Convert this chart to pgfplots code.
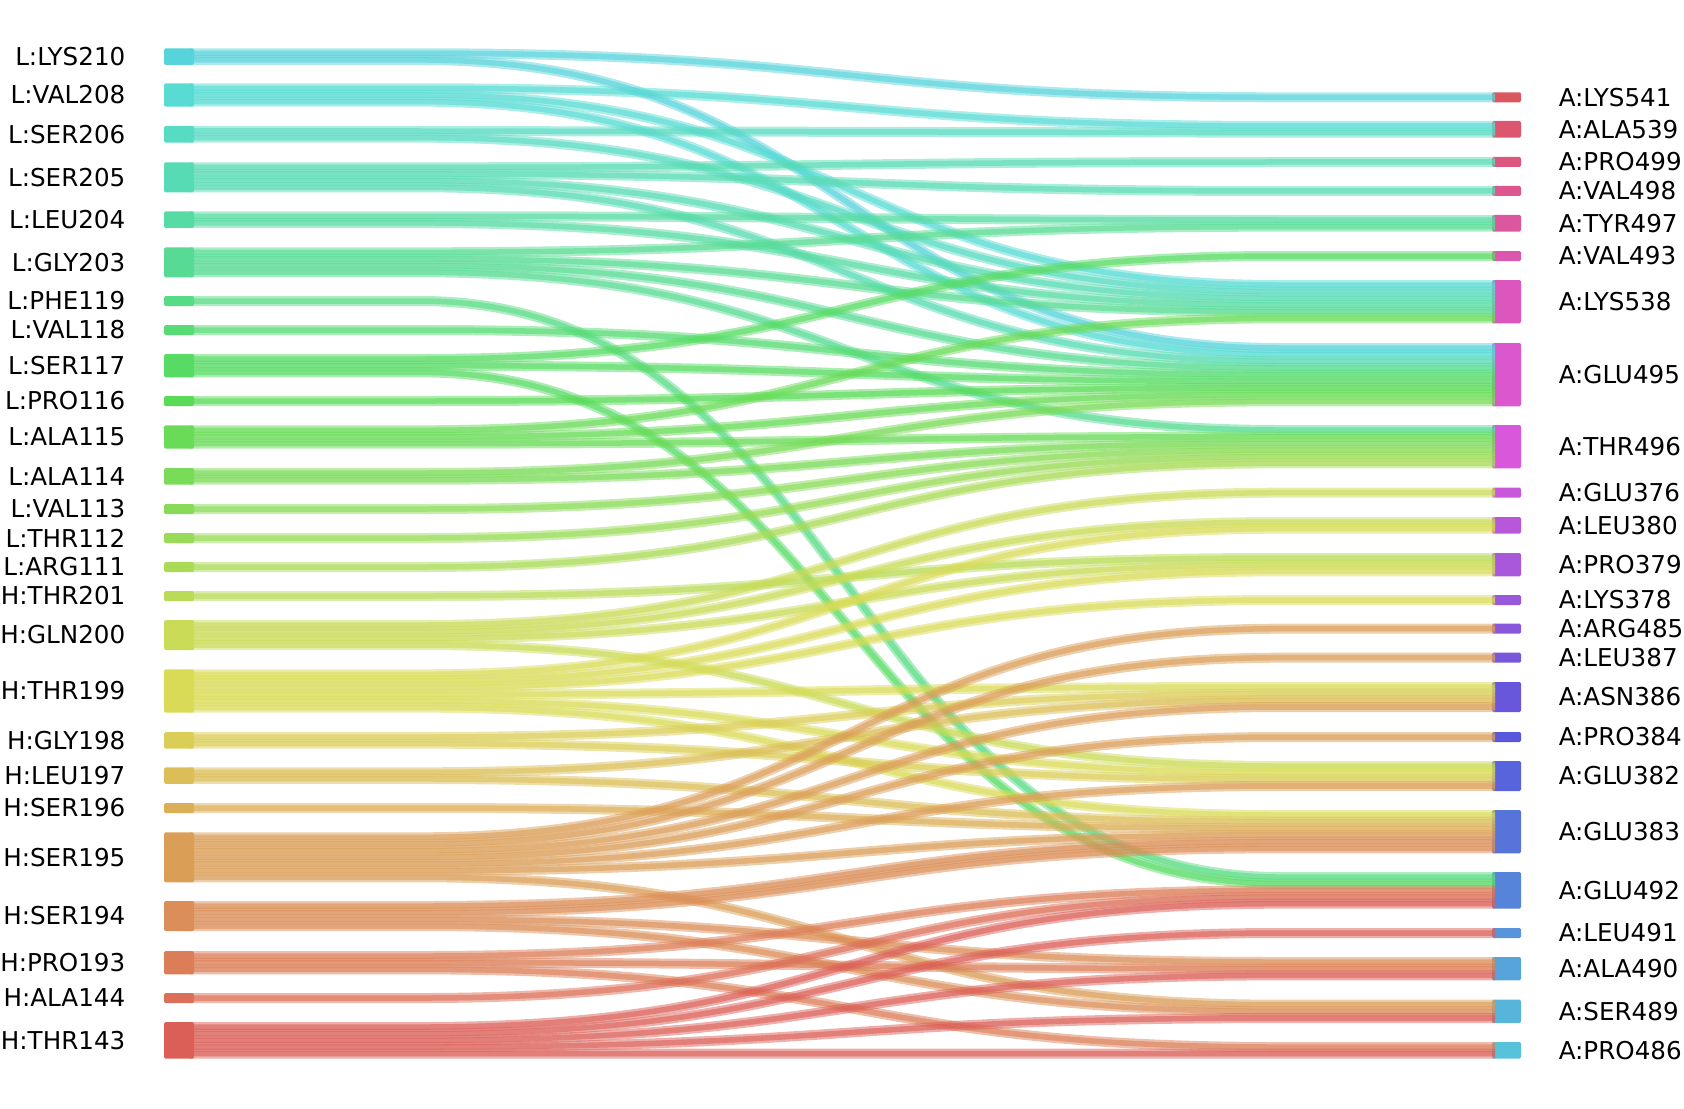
\documentclass[border=0pt]{standalone}
\usepackage{fontspec}
\setmainfont{DejaVu Sans}
\usepackage{pgfplots}
\usepackage{pgfplotstable}
\pgfplotsset{compat=1.18}

% hls palette, 50 hues (l=.6, s=.65) written as hsb, stored as rgb
\foreach \k in {0,...,49}{%
  \pgfmathsetmacro\hh{0.01+\k/50}%
  \definecolor{tmphue}{hsb}{\hh,0.6047,0.86}%
  \xglobal\colorlet{hue\k}[rgb]{tmphue}}

\newcommand\lbl{\fontsize{7}{8}\selectfont}

% left residues: label, top edge (px), contacts
\pgfplotstableread{
name top n
L:LYS210 48.3 2
L:VAL208 83.3 3
L:SER206 126 2
L:SER205 162.3 4
L:LEU204 211.3 2
L:GLY203 247.3 4
L:PHE119 296 1
L:VAL118 325 1
L:SER117 354 3
L:PRO116 396 1
L:ALA115 425.3 3
L:ALA114 468 2
L:VAL113 504 1
L:THR112 533 1
L:ARG111 562 1
H:THR201 591 1
H:GLN200 620 4
H:THR199 669.3 6
H:GLY198 732 2
H:LEU197 767.3 2
H:SER196 803 1
H:SER195 832.3 7
H:SER194 901 4
H:PRO193 951 3
H:ALA144 993 1
H:THR143 1022 5
}\leftnodes

% right residues
\pgfplotstableread{
name top n
A:LYS541 92.3 1
A:ALA539 121 2
A:PRO499 157 1
A:VAL498 186 1
A:TYR497 215 2
A:VAL493 251 1
A:LYS538 280 6
A:GLU495 343 9
A:THR496 425 6
A:GLU376 487.7 1
A:LEU380 517 2
A:PRO379 553 3
A:LYS378 595 1
A:ARG485 623.7 1
A:LEU387 652.7 1
A:ASN386 682 4
A:PRO384 732 1
A:GLU382 761 4
A:GLU383 810 6
A:GLU492 872 5
A:LEU491 928 1
A:ALA490 957 3
A:SER489 999.7 3
A:PRO486 1042 2
}\rightnodes

% one row per contact: source, slot in source, target, slot in target
\pgfplotstableread{
s ks t kt
0 0 0 0
0 1 7 0
1 0 1 0
1 1 6 0
1 2 7 1
2 0 1 1
2 1 6 1
3 0 2 0
3 1 3 0
3 2 6 2
3 3 7 2
4 0 4 0
4 1 6 3
5 0 4 1
5 1 6 4
5 2 7 3
5 3 8 0
6 0 19 0
7 0 7 4
8 0 5 0
8 1 7 5
8 2 19 1
9 0 7 6
10 0 6 5
10 1 7 7
10 2 8 1
11 0 7 8
11 1 8 2
12 0 8 3
13 0 8 4
14 0 8 5
15 0 11 0
16 0 9 0
16 1 10 0
16 2 11 1
16 3 17 0
17 0 10 1
17 1 11 2
17 2 12 0
17 3 15 0
17 4 17 1
17 5 18 0
18 0 15 1
18 1 17 2
19 0 15 2
19 1 18 1
20 0 18 2
21 0 13 0
21 1 14 0
21 2 15 3
21 3 16 0
21 4 17 3
21 5 18 3
21 6 22 0
22 0 18 4
22 1 18 5
22 2 21 0
22 3 22 1
23 0 19 2
23 1 21 1
23 2 23 0
24 0 19 3
25 0 19 4
25 1 20 0
25 2 21 2
25 3 22 2
25 4 23 1
}\strands

\begin{document}
\begin{tikzpicture}[every node/.style={font=\lbl, inner sep=0pt}]
\begin{axis}[
  x=0.1mm, y=0.1mm, y dir=reverse,
  xmin=0, xmax=1684, ymin=0, ymax=1108,
  hide axis, clip=false]

% right node bars (under the strands)
\pgfplotsforeachungrouped \i in {0,...,23}{%
  \pgfplotstablegetelem{\i}{top}\of\rightnodes \let\ntop=\pgfplotsretval
  \pgfplotstablegetelem{\i}{n}\of\rightnodes \let\nn=\pgfplotsretval
  \pgfplotstablegetelem{\i}{name}\of\rightnodes \let\nname=\pgfplotsretval
  \pgfmathsetmacro\nbot{\ntop+6.667*\nn+3.333}%
  \pgfmathsetmacro\nmid{(\ntop+\nbot)/2}%
  \pgfmathtruncatemacro\colidx{49-\i}%
  \edef\temp{\noexpand\fill[hue\colidx, rounded corners=0.15mm]
    (axis cs:1492,\ntop) rectangle (axis cs:1521,\nbot);
    \noexpand\node[anchor=west] at (axis cs:1558,\nmid) {\nname};}%
  \temp
}

% contact strands
\pgfplotsforeachungrouped \i in {0,...,66}{%
  \pgfplotstablegetelem{\i}{s}\of\strands \let\srcI=\pgfplotsretval
  \pgfplotstablegetelem{\i}{ks}\of\strands \let\srcK=\pgfplotsretval
  \pgfplotstablegetelem{\i}{t}\of\strands \let\tgtI=\pgfplotsretval
  \pgfplotstablegetelem{\i}{kt}\of\strands \let\tgtK=\pgfplotsretval
  \pgfplotstablegetelem{\srcI}{top}\of\leftnodes \let\stop=\pgfplotsretval
  \pgfplotstablegetelem{\tgtI}{top}\of\rightnodes \let\ttop=\pgfplotsretval
  \pgfmathsetmacro\ys{\stop+5+6.667*\srcK}%
  \pgfmathsetmacro\yt{\ttop+5+6.667*\tgtK}%
  \pgfmathtruncatemacro\colidx{25-\srcI}%
  \edef\temp{\noexpand\draw[line width=1mm, draw=hue\colidx, draw opacity=0.5]
    (axis cs:190,\ys) -- (axis cs:420,\ys)
    .. controls (axis cs:850,\ys) and (axis cs:850,\yt) .. (axis cs:1280,\yt)
    -- (axis cs:1495,\yt);
    \noexpand\draw[line width=0.55mm, draw=hue\colidx, draw opacity=0.6]
    (axis cs:190,\ys) -- (axis cs:420,\ys)
    .. controls (axis cs:850,\ys) and (axis cs:850,\yt) .. (axis cs:1280,\yt)
    -- (axis cs:1495,\yt);}%
  \temp
}

% left node bars
\pgfplotsforeachungrouped \i in {0,...,25}{%
  \pgfplotstablegetelem{\i}{top}\of\leftnodes \let\ntop=\pgfplotsretval
  \pgfplotstablegetelem{\i}{n}\of\leftnodes \let\nn=\pgfplotsretval
  \pgfplotstablegetelem{\i}{name}\of\leftnodes \let\nname=\pgfplotsretval
  \pgfmathsetmacro\nbot{\ntop+6.667*\nn+3.333}%
  \pgfmathsetmacro\nmid{(\ntop+\nbot)/2}%
  \pgfmathtruncatemacro\colidx{25-\i}%
  \edef\temp{\noexpand\fill[hue\colidx, rounded corners=0.15mm]
    (axis cs:164,\ntop) rectangle (axis cs:194,\nbot);
    \noexpand\node[anchor=east] at (axis cs:126,\nmid) {\nname};}%
  \temp
}
\end{axis}
\pgfresetboundingbox
\path[use as bounding box] (0,0) rectangle (16.84cm,11.08cm);
\end{tikzpicture}
\end{document}
